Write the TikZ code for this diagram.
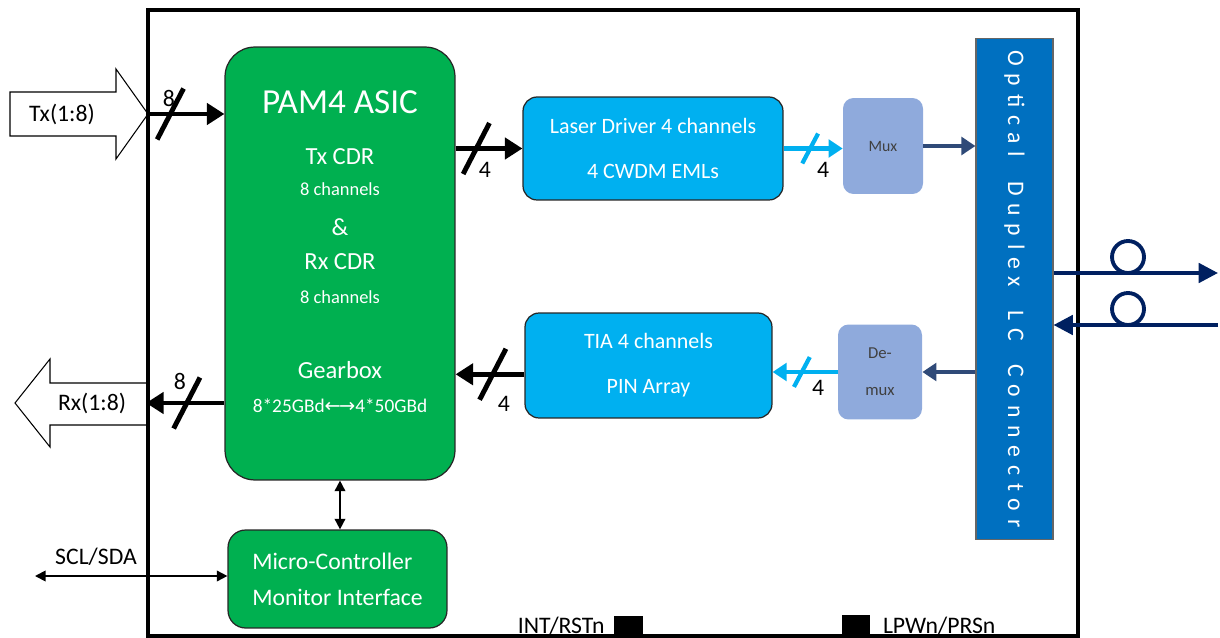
\documentclass[tikz,border=0pt]{standalone}
\usepackage{fontspec}
\setmainfont{Carlito}
\newfontfamily\arrowfont{DejaVu Sans}
\usetikzlibrary{arrows.meta,decorations.markings,positioning}

\definecolor{asicgreen}{HTML}{00B050}
\definecolor{driverblue}{HTML}{00B0F0}
\definecolor{muxblue}{HTML}{8FAADC}
\definecolor{connblue}{HTML}{0070C0}
\definecolor{linkblue}{HTML}{2F4A78}
\definecolor{fibernavy}{HTML}{002060}

\tikzset{
  block/.style = {draw=black!85, line width=0.7pt, rounded corners=8pt, inner sep=0pt, text=white, align=center},
  greenblock/.style = {block, fill=asicgreen},
  blueblock/.style = {block, fill=driverblue},
  muxblock/.style = {fill=muxblue, rounded corners=6pt, inner sep=0pt, align=center, text=black!75},
  lbl/.style = {font=\fontsize{13.5}{16}\selectfont, inner sep=0pt},
  wlbl/.style = {lbl, text=white},
  bus/.style = {line width=2.8pt, -{Triangle[length=10pt,width=12pt]}},
  light/.style = {line width=2.4pt, driverblue, -{Triangle[length=8pt,width=10pt]}},
  link/.style = {line width=2.4pt, linkblue, -{Triangle[length=8pt,width=10pt]}},
  ctl/.style = {line width=1pt, {Triangle[length=6pt,width=6pt]}-{Triangle[length=6pt,width=6pt]}},
  fiber/.style = {line width=2.2pt, fibernavy},
  bigslash/.style = {postaction={decorate, decoration={markings,
      mark=at position #1 with {\draw[-, line width=2.8pt, black] (-7.5pt,-14.5pt) -- (7.5pt,14.5pt);}}}},
  smallslash/.style = {postaction={decorate, decoration={markings,
      mark=at position #1 with {\draw[-, line width=2.4pt, driverblue] (-4.5pt,-8.5pt) -- (4.5pt,8.5pt);}}}}
}

\begin{document}
\begin{tikzpicture}[x=0.02cm, y=-0.02cm]
  \useasboundingbox (0,0) rectangle (1220,638);

  % host side
  \draw[line width=0.6pt, fill=white] (10,92) -- (116,92) -- (116,69) -- (148,114) -- (116,159) -- (116,136) -- (10,136) -- cycle;
  \node[lbl] (txin) at (62,114) {Tx(1:8)};
  \draw[line width=0.6pt, fill=white] (148,383) -- (50,383) -- (50,359) -- (15,403) -- (50,447) -- (50,425) -- (148,425);
  \node[lbl] (rxout) at (92,403) {Rx(1:8)};

  % module outline
  \node[draw, line width=2.3pt, minimum width=18.6cm, minimum height=12.52cm, inner sep=0pt] (module) at (613,323) {};

  % ASIC
  \node[greenblock, rounded corners=17pt, minimum width=4.6cm, minimum height=8.66cm] (asic) at (340,263.5) {};
  \node[wlbl, font=\fontsize{20}{24}\selectfont] (asicname) at (340,102) {PAM4 ASIC};
  \node[wlbl, font=\fontsize{14}{16}\selectfont] (txcdr) at (340,157) {Tx CDR};
  \node[wlbl, font=\fontsize{10.5}{12}\selectfont] (txch) at (340,189) {8 channels};
  \node[wlbl, font=\fontsize{14}{16}\selectfont] (amp) at (340,227) {\&};
  \node[wlbl, font=\fontsize{14}{16}\selectfont] (rxcdr) at (340,262) {Rx CDR};
  \node[wlbl, font=\fontsize{10.5}{12}\selectfont] (rxch) at (340,297) {8 channels};
  \node[wlbl, font=\fontsize{14}{16}\selectfont] (gearbox) at (340,370) {Gearbox};
  \node[wlbl, font=\fontsize{11}{13}\selectfont] (rate) at (340,406) {8*25GBd{\arrowfont\fontsize{11}{13}\selectfont ←\kern-1pt→}4*50GBd};

  % optics
  \node[blueblock, minimum width=5.2cm, minimum height=2.06cm, font=\fontsize{12.5}{26}\selectfont] (laser) at (653,148.5) {Laser Driver 4 channels\\4 CWDM EMLs};
  \node[blueblock, minimum width=4.94cm, minimum height=2.1cm, font=\fontsize{12.5}{25.5}\selectfont] (tia) at (648.5,365.5) {TIA 4 channels\\PIN Array};
  \node[muxblock, minimum width=1.6cm, minimum height=1.92cm, font=\fontsize{9}{11}\selectfont] (mux) at (883,146) {Mux};
  \node[muxblock, minimum width=1.68cm, minimum height=1.9cm, font=\fontsize{9.5}{21}\selectfont] (demux) at (880,372) {De-\\mux};
  \node[draw=black!60, line width=0.6pt, fill=connblue, minimum width=1.54cm, minimum height=10.04cm, inner sep=0pt] (conn) at (1014.5,289) {};
  \node[wlbl, rotate=-90, font=\fontsize{13.5}{15}\selectfont\addfontfeatures{LetterSpace=33}] (connname) at (conn.center) {Optical\hspace{6pt} Duplex\hspace{6pt} LC\hspace{6pt} Connector};

  % management
  \node[greenblock, rounded corners=10pt, minimum width=4.38cm, minimum height=1.96cm, font=\fontsize{13.5}{20.5}\selectfont, align=left] (mcu) at (337.5,579) {Micro-Controller\\Monitor Interface};

  % electrical lanes
  \draw[bus, bigslash=0.31] (module.west |- txin) -- (asic.west |- txin);
  \node[lbl] (txwidth) at (169,98) {8};
  \draw[bus, bigslash=0.48] (asic.west |- rxout) -- (module.west |- rxout);
  \node[lbl] (rxwidth) at (180,381) {8};
  \draw[bus, bigslash=0.31] (asic.east |- laser) -- (laser.west);
  \node[lbl] (txlanes) at (485,170) {4};
  \draw[bus, bigslash=0.46] ([yshift=-5pt]tia.west) -- ([yshift=-5pt]tia.west -| asic.east);
  \node[lbl] (rxlanes) at (504,404) {4};

  % optical lanes
  \draw[light, smallslash=0.45] (laser.east) -- (laser.east -| mux.west);
  \node[lbl] (txoptlanes) at (823,170) {4};
  \draw[link] (mux.east) -- (mux.east -| conn.west);
  \draw[link] (conn.west |- demux.east) -- (demux.east);
  \draw[light, smallslash=0.55] (demux.west) -- (demux.west -| tia.east);
  \node[lbl] (rxoptlanes) at (818,388) {4};

  % control
  \draw[ctl] (asic.south) -- (asic.south |- mcu.north);
  \coordinate (sclend) at (35,576);
  \draw[ctl] (sclend) -- (mcu.west |- sclend);
  \node[lbl] (scl) at (96,557) {SCL/SDA};

  % fibers
  \coordinate (fibout) at (1218,273);
  \coordinate (fibin) at (1218,325);
  \draw[fiber, -{Triangle[length=11pt,width=11pt]}] (conn.east |- fibout) -- (fibout);
  \draw[fiber] (1128,257) circle[radius=0.32cm];
  \draw[fiber, -{Triangle[length=11pt,width=11pt]}] (fibin) -- (conn.east |- fibin);
  \draw[fiber] (1128,309) circle[radius=0.32cm];

  % pins
  \node[fill=black, minimum width=0.58cm, minimum height=0.4cm, inner sep=0pt] (intpad) at (628.5,626) {};
  \node[lbl, left=5pt of intpad] (intlbl) {INT/RSTn};
  \node[fill=black, minimum width=0.56cm, minimum height=0.44cm, inner sep=0pt] (lpwpad) at (856,626) {};
  \node[lbl, right=7pt of lpwpad] (lpwlbl) {LPWn/PRSn};
\end{tikzpicture}
\end{document}
